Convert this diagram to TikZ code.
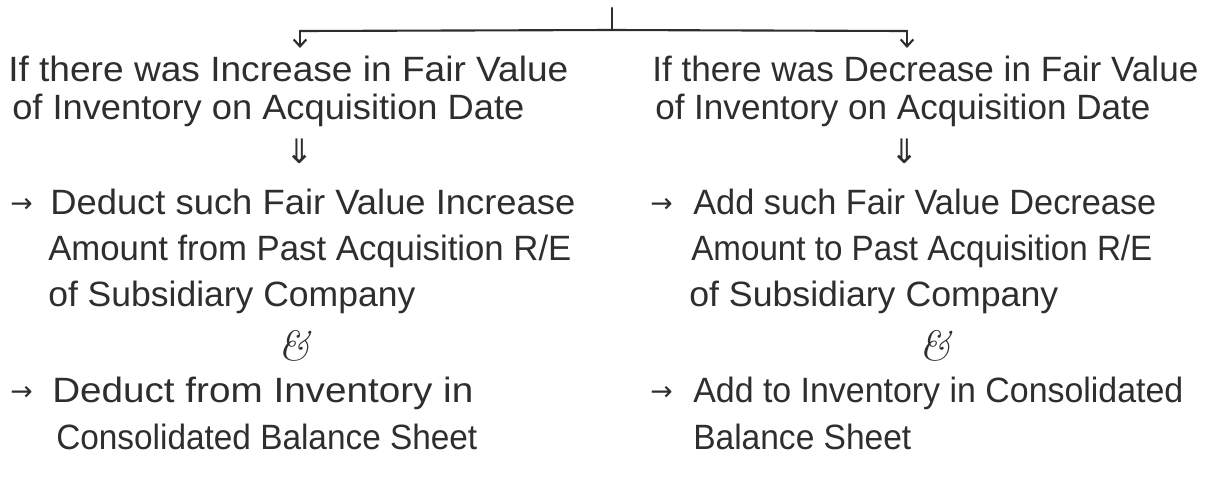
\documentclass[tikz,border=0pt]{standalone}
\usepackage{fontspec}
\setmainfont{Liberation Sans}
\newfontfamily\djv{DejaVu Sans}
\newfontfamily\lmr{Latin Modern Roman}
\usetikzlibrary{arrows.meta}
\definecolor{ink}{HTML}{2E2E2E}
\newdimen\fitdim
\newcommand\fitto[2]{\setbox0\hbox{#2}\fitdim=\wd0\relax\pgfmathsetmacro\fitfac{#1*0.7113/\fitdim}\scalebox{\fitfac}[1]{\box0}}
\begin{document}
\begin{tikzpicture}[x=0.025cm,y=-0.025cm,
  line/.style={draw=ink,line width=1.5pt,line cap=round},
  arr/.style={line,-{Straight Barb[length=5pt,width=9pt,line width=1.5pt]}},
  txt/.style={anchor=base west,inner sep=0pt,text=ink,font=\fontsize{25}{30}\selectfont},
  bul/.style={anchor=base west,inner sep=0pt,text=ink,font=\djv\fontsize{19}{24}\selectfont},
  dbl/.style={inner sep=0pt,text=ink,font=\djv\fontsize{24}{28}\selectfont},
  amp/.style={inner sep=0pt,text=ink,font=\lmr\itshape\fontsize{30}{34}\selectfont}]
\useasboundingbox (0,0) rectangle (1206,489);
% top connector
\coordinate (root) at (612,8);
\coordinate (join) at (612,30);
\coordinate (barL) at (300,31);
\coordinate (barR) at (907,31);
\coordinate (tipL) at (300,48);
\coordinate (tipR) at (907,48);
\draw[line] (root) -- (join);
\draw[line] (barL) -- (join) -- (barR);
\draw[arr] (barL) -- (tipL);
\draw[arr] (barR) -- (tipR);
% left column
\node[txt] (lh1) at (8,81) {\fitto{560}{If there was Increase in Fair Value}};
\node[txt] (lh2) at (12,119) {\fitto{512}{of Inventory on Acquisition Date}};
\node[dbl] (ld) at (300,151) {⇓};
\node[bul] (la1) at (10,212) {→};
\node[txt] (ls1) at (50,214) {\fitto{525}{Deduct such Fair Value Increase}};
\node[txt] (ls2) at (48,260) {\fitto{523}{Amount from Past Acquisition R/E}};
\node[txt] (ls3) at (48,306) {\fitto{367}{of Subsidiary Company}};
\node[amp] (lamp) at (294,346) {\&};
\node[bul] (la2) at (10,400) {→};
\node[txt] (ls4) at (52,402) {\fitto{421}{Deduct from Inventory in}};
\node[txt] (ls5) at (56,449) {\fitto{421}{Consolidated Balance Sheet}};
% right column
\node[txt] (rh1) at (652,81) {\fitto{546}{If there was Decrease in Fair Value}};
\node[txt] (rh2) at (655,119) {\fitto{495}{of Inventory on Acquisition Date}};
\node[dbl] (rd) at (905,151) {⇓};
\node[bul] (ra1) at (650,212) {→};
\node[txt] (rs1) at (693,214) {\fitto{463}{Add such Fair Value Decrease}};
\node[txt] (rs2) at (691,260) {\fitto{461}{Amount to Past Acquisition R/E}};
\node[txt] (rs3) at (689,306) {\fitto{369}{of Subsidiary Company}};
\node[amp] (ramp) at (935,346) {\&};
\node[bul] (ra2) at (650,400) {→};
\node[txt] (rs4) at (693,402) {\fitto{490}{Add to Inventory in Consolidated}};
\node[txt] (rs5) at (693,449) {\fitto{218}{Balance Sheet}};
\end{tikzpicture}
\end{document}
